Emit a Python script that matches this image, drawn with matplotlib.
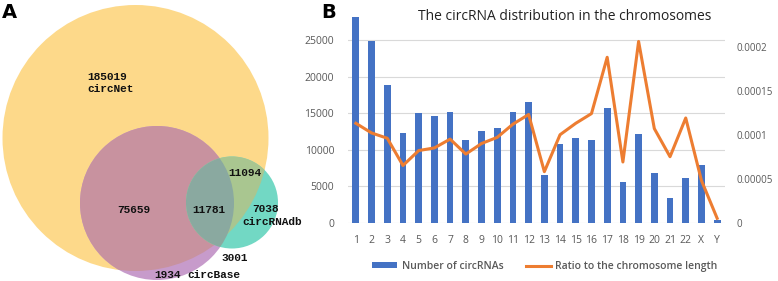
import matplotlib
matplotlib.use("Agg")
import matplotlib.pyplot as plt
from matplotlib.patches import Circle, Rectangle
from matplotlib.lines import Line2D
import numpy as np

# --- data ---------------------------------------------------------
chroms = ["1", "2", "3", "4", "5", "6", "7", "8", "9", "10", "11", "12",
          "13", "14", "15", "16", "17", "18", "19", "20", "21", "22", "X", "Y"]
n_circ = [28200, 24900, 18840, 12320, 14960, 14550, 15100, 11310, 12550, 13000,
          15190, 16510, 6520, 10770, 11630, 11310, 15780, 5610, 12130, 6840,
          3420, 6070, 7940, 370]
ratio = [11.3e-5, 10.2e-5, 9.6e-5, 6.5e-5, 8.2e-5, 8.5e-5, 9.5e-5, 7.8e-5,
         9.0e-5, 9.7e-5, 11.2e-5, 12.3e-5, 5.8e-5, 10.0e-5, 11.3e-5, 12.4e-5,
         18.8e-5, 6.9e-5, 20.6e-5, 10.7e-5, 7.5e-5, 11.9e-5, 4.8e-5, 0.5e-5]
left_ticks = [0, 5000, 10000, 15000, 20000, 25000]
right_ticks = [0, 0.00005, 0.0001, 0.00015, 0.0002]
right_labels = ["0", "0.00005", "0.0001", "0.00015", "0.0002"]

# Venn counts
only_net = 185019
net_base = 75659
all_three = 11781
net_db = 11094
only_db = 7038
base_db = 3001
only_base = 1934
set_names = ["circNet", "circBase", "circRNAdb"]

# --- style --------------------------------------------------------
BLUE = "#4472c4"
ORANGE = "#ed7d31"
TXT = "#595959"
GRID = "#d9d9d9"
MONO = "Liberation Mono"
SANS = "Open Sans"

fig = plt.figure(figsize=(7.78, 2.81), dpi=100)
fig.patch.set_facecolor("white")

# --- panel A: Venn (pixel coordinates) -----------------------------
axv = fig.add_axes([0, 0, 1, 1])
axv.set_xlim(0, 778)
axv.set_ylim(281, 0)
axv.axis("off")

c_net = (135.5, 138, 133)
c_base = (157, 203, 77)
c_db = (232, 202.5, 46)

def circ(c, color, clip=None):
    p = Circle((c[0], c[1]), c[2], facecolor=color, edgecolor="none", lw=0)
    axv.add_patch(p)
    if clip is not None:
        cp = Circle((clip[0], clip[1]), clip[2], transform=axv.transData)
        p.set_clip_path(cp)
    return p

circ(c_net, "#fdd98a")
circ(c_base, "#c79bcb")
circ(c_base, "#c8929f", clip=c_net)
circ(c_db, "#72d8c4")
circ(c_db, "#a9c690", clip=c_net)
circ(c_db, "#8aa9a0", clip=c_base)

vkw = dict(family=MONO, fontweight="bold", fontsize=8, color="#111111")
axv.text(87, 77, f"{only_net}", ha="left", va="center", **vkw)
axv.text(87, 89, set_names[0], ha="left", va="center", **vkw)
axv.text(134, 210, f"{net_base}", ha="center", va="center", **vkw)
axv.text(209, 210, f"{all_three}", ha="center", va="center", **vkw)
axv.text(245, 173, f"{net_db}", ha="center", va="center", **vkw)
axv.text(252, 209, f"{only_db}", ha="left", va="center", **vkw)
axv.text(242, 222, set_names[2], ha="left", va="center", **vkw)
axv.text(235, 258, f"{base_db}", ha="center", va="center", **vkw)
axv.text(154, 275, f"{only_base}", ha="left", va="center", **vkw)
axv.text(187, 275, set_names[1], ha="left", va="center", **vkw)

axv.text(2, 13, "A", ha="left", va="center", fontsize=14, fontweight="bold",
         family="DejaVu Sans", color="black")
axv.text(321, 13, "B", ha="left", va="center", fontsize=14, fontweight="bold",
         family="DejaVu Sans", color="black")

# --- panel B: bars + ratio line -----------------------------------
ax = fig.add_axes([348 / 778, 1 - 222.7 / 281, (725 - 348) / 778, (222.7 - 14) / 281])
ax.set_facecolor("none")
x = np.arange(len(chroms))
ax.bar(x, n_circ, width=0.43, color=BLUE, zorder=2)
ax.set_xlim(-0.5, len(chroms) - 0.5)
ax.set_ylim(0, 28590)
ax.set_yticks(left_ticks)
ax.set_yticklabels([str(t) for t in left_ticks])
ax.set_xticks(x)
ax.set_xticklabels(chroms)
ax.grid(axis="y", color=GRID, lw=0.8, zorder=0)
ax.set_axisbelow(True)
for s in ax.spines.values():
    s.set_visible(False)
ax.tick_params(axis="both", length=0, colors=TXT, labelsize=7.5)
ax.tick_params(axis="x", pad=9)
ax.tick_params(axis="y", pad=10)
for lab in ax.get_xticklabels() + ax.get_yticklabels():
    lab.set_family(SANS)

ax2 = ax.twinx()
ax2.plot(x, ratio, color=ORANGE, lw=2.2, zorder=3)
ax2.set_ylim(0, 0.0002372)
ax2.set_yticks(right_ticks)
ax2.set_yticklabels(right_labels)
for s in ax2.spines.values():
    s.set_visible(False)
ax2.tick_params(axis="y", length=0, colors=TXT, labelsize=7, pad=8)
for lab in ax2.get_yticklabels():
    lab.set_family(SANS)

fig.text(565 / 778, 1 - 17 / 281, "The circRNA distribution in the chromosomes",
         ha="center", va="center", fontsize=10, family=SANS, color="#222222")

handles = [Rectangle((0, 0), 1, 1, facecolor=BLUE, edgecolor="none"),
           Line2D([], [], color=ORANGE, lw=2.2)]
fig.legend(handles, ["Number of circRNAs", "Ratio to the chromosome length"],
           loc="center", bbox_to_anchor=(545 / 778, 1 - 266.5 / 281), ncol=2,
           frameon=False, prop={"family": SANS, "size": 7.5, "weight": "semibold"},
           labelcolor=TXT, handlelength=2.4, handleheight=0.5,
           columnspacing=2.2, handletextpad=0.4)

fig.savefig("out.png", dpi=100, facecolor="white")
